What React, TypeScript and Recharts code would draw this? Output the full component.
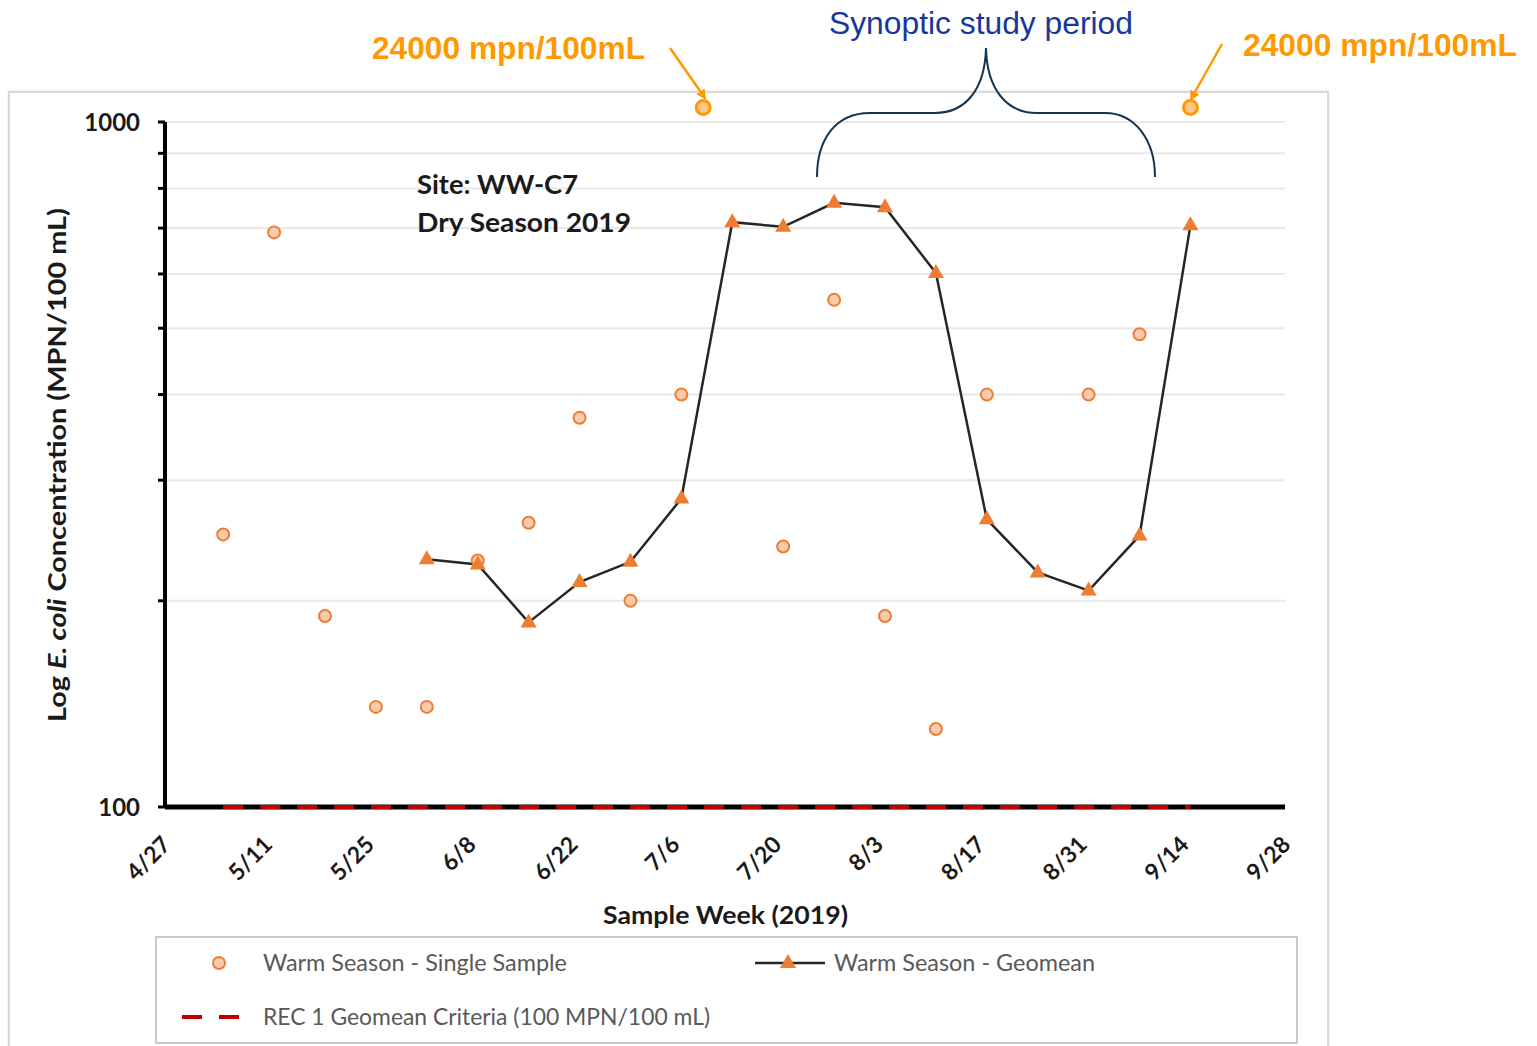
import React from 'react';
import {
  ComposedChart, Line, Scatter, XAxis, YAxis, CartesianGrid, ReferenceDot,
} from 'recharts';

// ---- data ----
const sampleDates = ['5/5', '5/12', '5/19', '5/26', '6/2', '6/9', '6/16', '6/23', '6/30', '7/7',
  '7/14', '7/21', '7/28', '8/4', '8/11', '8/18', '8/25', '9/1', '9/8', '9/15'];
const singleSample = [250, 690, 190, 140, 140, 229, 260, 370, 200, 400,
  null, 240, 550, 190, 130, 400, null, 400, 490, null];
const geomean = [null, null, null, null, 230, 226, 186, 213, 228, 282,
  714, 703, 762, 751, 602, 263, 220, 207, 249, 707];
const recCriteria = 100;
const tickLabels = ['4/27', '5/11', '5/25', '6/8', '6/22', '7/6', '7/20', '8/3', '8/17', '8/31', '9/14', '9/28'];
const yTicks = [100, 200, 300, 400, 500, 600, 700, 800, 900, 1000];
const yLabelled = [100, 1000];
// off-scale single samples (24000 MPN/100 mL), drawn just above the 1000 line
const exceedanceDates = ['7/10', '9/15'];
const exceedanceShownAt = 1050;

const dayOf = (md: string) => {
  const [m, d] = md.split('/').map(Number);
  return Math.round((Date.UTC(2019, m - 1, d) - Date.UTC(2019, 3, 27)) / 86400000);
};

const singleData = sampleDates
  .map((d, i) => ({ day: dayOf(d), value: singleSample[i] }))
  .filter((p) => p.value != null);
const geoData = sampleDates.map((d, i) => ({ day: dayOf(d), value: geomean[i] }));
const recData = sampleDates.map((d) => ({ day: dayOf(d), value: recCriteria }));
const xTicks = tickLabels.map(dayOf);
// x-axis baseline (drawn as a series so the dashed criteria line can sit on top of it)
const baselineData = [tickLabels[0], tickLabels[tickLabels.length - 1]].map((d) => ({ day: dayOf(d), value: 100 }));

const CAL = 'Lato, "Open Sans", sans-serif';
const ARIAL = '"Liberation Sans", Arial, sans-serif';
const ORANGE = '#ED7D31';

const Circle = (props: any) => {
  const { cx, cy } = props;
  return <circle cx={cx} cy={cy} r={6} fill="#F8CBAD" stroke={ORANGE} strokeWidth={2} />;
};

const Tri = (props: any) => {
  const { cx, cy } = props;
  if (cx == null || cy == null || props.value == null) return null;
  return <polygon key={`t${cx}`} points={`${cx},${cy - 9} ${cx - 8},${cy + 5} ${cx + 8},${cy + 5}`} fill={ORANGE} />;
};

const XTick = (props: any) => {
  const { x, y, payload } = props;
  const idx = xTicks.indexOf(payload.value);
  const tx = x + 7;
  const ty = y + 31;
  return (
    <text x={tx} y={ty} transform={`rotate(-45 ${tx} ${ty})`} textAnchor="end"
      fontFamily={CAL} fontWeight={700} fontSize={23} fill="#1a1a1a">
      {idx >= 0 ? tickLabels[idx] : ''}
    </text>
  );
};

export default function App() {
  return (
    <div style={{ position: 'relative', width: 1537, height: 1046, overflow: 'hidden', background: '#fff' }}>
      <style>{'body{margin:0}'}</style>
      {/* outer frame */}
      <div style={{ position: 'absolute', left: 8, top: 91, width: 1321, height: 1000, border: '2px solid #d9d9d9', boxSizing: 'border-box', boxShadow: '0 0 2px #e0e0e0' }} />
      <div style={{ position: 'absolute', left: 0, top: 0 }}>
        <ComposedChart width={1537} height={1046} margin={{ top: 122, left: 85, right: 252, bottom: 179 }}>
          <CartesianGrid horizontal vertical={false} stroke="#e8e8e8" strokeWidth={2} />
          <XAxis type="number" dataKey="day" domain={[0, 154]} ticks={xTicks} interval={0}
            height={60} tickLine={false} axisLine={false} tick={<XTick />} allowDecimals={false} />
          <YAxis type="number" scale="log" domain={[100, 1000]} ticks={yTicks} interval={0} width={80}
            axisLine={{ stroke: '#000', strokeWidth: 4 }} tickLine={{ stroke: '#000', strokeWidth: 3 }} tickSize={7} tickMargin={18}
            tickFormatter={(v: number) => (yLabelled.includes(v) ? String(v) : '')}
            tick={{ fontFamily: CAL, fontWeight: 700, fontSize: 24, fill: '#1a1a1a' }} />
          <Line data={baselineData} dataKey="value" stroke="#000" strokeWidth={5} dot={false} activeDot={false}
            isAnimationActive={false} legendType="none" />
          <Scatter data={singleData} dataKey="value" shape={<Circle />} isAnimationActive={false} />
          <Line data={geoData} dataKey="value" stroke="#262626" strokeWidth={2.5} dot={<Tri />} activeDot={false}
            isAnimationActive={false} connectNulls={false} />
          <Line data={recData} dataKey="value" stroke="#C00000" strokeWidth={4} strokeDasharray="20 17" dot={false}
            activeDot={false} isAnimationActive={false} />
          {exceedanceDates.map((d) => (
            <ReferenceDot key={d} x={dayOf(d)} y={exceedanceShownAt} r={7} fill="#FFC58A" stroke="#FF9900" strokeWidth={3} ifOverflow="visible" />
          ))}
        </ComposedChart>
      </div>
      {/* annotations */}
      <svg width={1537} height={1046} style={{ position: 'absolute', left: 0, top: 0, pointerEvents: 'none' }}>
        <defs>
          <marker id="arr" markerWidth="10" markerHeight="10" refX="8" refY="5" orient="auto" markerUnits="userSpaceOnUse">
            <path d="M0,0 L10,5 L0,10 z" fill="#FF9900" />
          </marker>
        </defs>
        <text x={372} y={59} fontFamily={ARIAL} fontWeight={700} fontSize={31} fill="#FF9900" textLength={273} lengthAdjust="spacingAndGlyphs">24000 mpn/100mL</text>
        <text x={1243} y={56} fontFamily={ARIAL} fontWeight={700} fontSize={31} fill="#FF9900" textLength={274} lengthAdjust="spacingAndGlyphs">24000 mpn/100mL</text>
        <line x1={670} y1={48} x2={705} y2={98} stroke="#FF9900" strokeWidth={2.5} markerEnd="url(#arr)" />
        <line x1={1222} y1={44} x2={1191} y2={99} stroke="#FF9900" strokeWidth={2.5} markerEnd="url(#arr)" />
        <text x={829} y={34} fontFamily={ARIAL} fontSize={31} fill="#17379B" textLength={304} lengthAdjust="spacingAndGlyphs">Synoptic study period</text>
        <path d="M817,177 C817,140 835,113 870,113 L935,113 C965,113 985,90 986,48 C987,90 1007,113 1037,113 L1105,113 C1135,113 1155,140 1155,177"
          fill="none" stroke="#14344f" strokeWidth={2} />
        <text x={417} y={194} fontFamily={CAL} fontWeight={700} fontSize={27} fill="#1a1a1a" textLength={161} lengthAdjust="spacingAndGlyphs">Site: WW-C7</text>
        <text x={417} y={232} fontFamily={CAL} fontWeight={700} fontSize={27} fill="#1a1a1a" textLength={214} lengthAdjust="spacingAndGlyphs">Dry Season 2019</text>
        <text transform="translate(66 465) rotate(-90)" textAnchor="middle" fontFamily={CAL} fontWeight={700} fontSize={25} fill="#1a1a1a"
          textLength={514} lengthAdjust="spacingAndGlyphs">
          Log <tspan fontStyle="italic">E. coli</tspan> Concentration (MPN/100 mL)
        </text>
        <text x={603} y={924} fontFamily={CAL} fontWeight={700} fontSize={25} fill="#1a1a1a" textLength={245} lengthAdjust="spacingAndGlyphs">Sample Week (2019)</text>
      </svg>
      {/* legend */}
      <div style={{ position: 'absolute', left: 155, top: 936, width: 1143, height: 108, border: '2px solid #c8c8c8', boxSizing: 'border-box' }}>
        <svg width={1143} height={108} style={{ position: 'absolute', left: -2, top: -2 }}>
          <circle cx={64} cy={27} r={6} fill="#F8CBAD" stroke={ORANGE} strokeWidth={2} />
          <line x1={600} y1={27} x2={670} y2={27} stroke="#262626" strokeWidth={2.5} />
          <polygon points="633,18 625,32 641,32" fill={ORANGE} />
          <line x1={27} y1={81} x2={86} y2={81} stroke="#C00000" strokeWidth={4} strokeDasharray="20 17" />
          <text x={108} y={35} fontFamily={CAL} fontSize={23} fill="#595959" textLength={304} lengthAdjust="spacingAndGlyphs">Warm Season - Single Sample</text>
          <text x={679} y={35} fontFamily={CAL} fontSize={23} fill="#595959" textLength={261} lengthAdjust="spacingAndGlyphs">Warm Season - Geomean</text>
          <text x={108} y={89} fontFamily={CAL} fontSize={23} fill="#595959" textLength={447} lengthAdjust="spacingAndGlyphs">REC 1 Geomean Criteria (100 MPN/100 mL)</text>
        </svg>
      </div>
    </div>
  );
}
